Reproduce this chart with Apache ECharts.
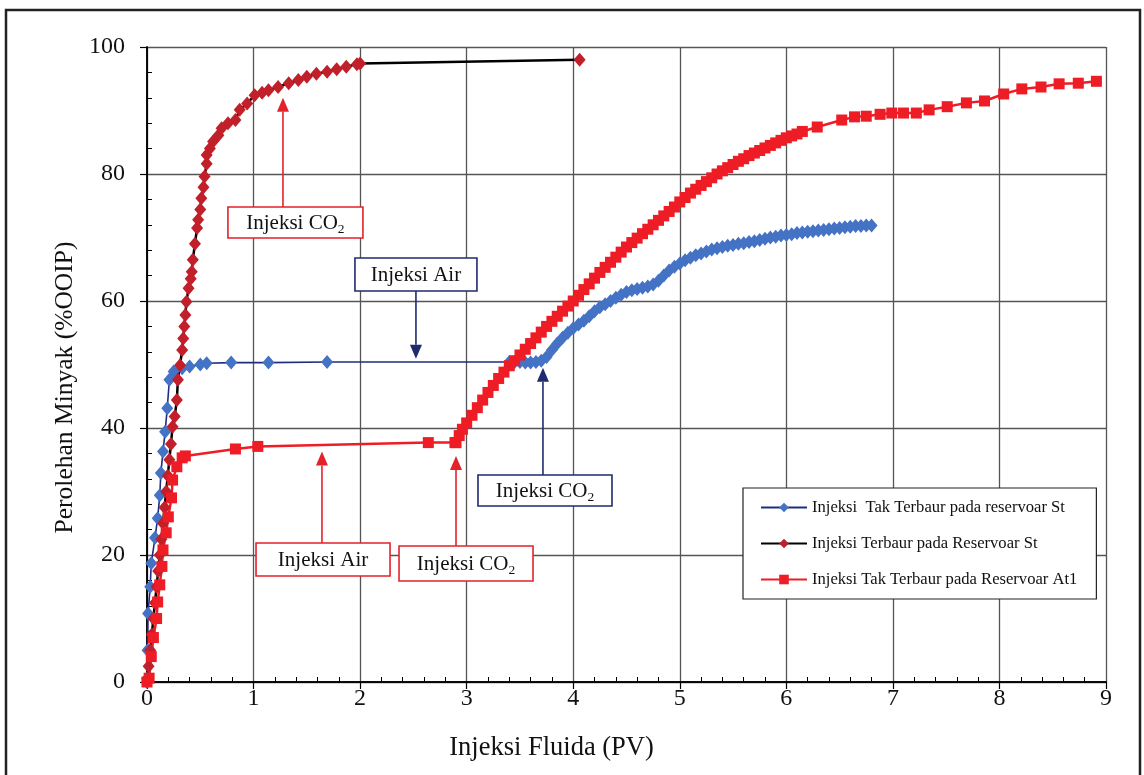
<!DOCTYPE html>
<html><head><meta charset="utf-8">
<script src="https://cdn.jsdelivr.net/npm/echarts@6/dist/echarts.min.js"></script>
<style>html,body{margin:0;padding:0;background:#fff}#c{width:1144px;height:775px}</style>
</head><body><div id="c"></div>
<script>
// ---- names & ticks ----
const seriesNames = ['Injeksi  Tak Terbaur pada reservoar St', 'Injeksi Terbaur pada Reservoar St', 'Injeksi Tak Terbaur pada Reservoar At1'];
const xAxisTitle = 'Injeksi Fluida (PV)';
const yAxisTitle = 'Perolehan Minyak (%OOIP)';
const xTicks = [0, 1, 2, 3, 4, 5, 6, 7, 8, 9];
const yTicks = [0, 20, 40, 60, 80, 100];

// ---- Series 1: Injeksi Tak Terbaur pada reservoar St (blue diamonds) ----
const stTakX = [0, 0.005, 0.01, 0.03, 0.04, 0.075, 0.10, 0.12, 0.13, 0.15, 0.17, 0.19, 0.21, 0.25, 0.33, 0.40, 0.50, 0.56, 0.79, 1.14, 1.69,
  3.40, 3.45, 3.50, 3.55, 3.60, 3.65, 3.70, 3.75, 3.80, 3.85, 3.90, 3.95, 4.00, 4.05, 4.10, 4.15, 4.20, 4.25, 4.30, 4.35, 4.40, 4.45, 4.50,
  4.55, 4.60, 4.65, 4.70, 4.75, 4.80, 4.85, 4.90, 4.95, 5.00, 5.05, 5.10, 5.15, 5.20, 5.25, 5.30, 5.35, 5.40, 5.45, 5.50, 5.55, 5.60,
  5.65, 5.70, 5.75, 5.80, 5.85, 5.90, 5.95, 6.00, 6.05, 6.10, 6.15, 6.20, 6.25, 6.30, 6.35, 6.40, 6.45, 6.50, 6.55, 6.60, 6.65, 6.70, 6.75, 6.80];
const stTakY = [0.5, 5, 10.8, 15, 18.7, 22.7, 25.8, 29.4, 32.9, 36.3, 39.4, 43.1, 47.6, 48.9, 49.4, 49.7, 50.0, 50.2, 50.3, 50.3, 50.4,
  50.4, 50.4, 50.4, 50.3, 50.3, 50.4, 50.6, 51.2, 52.3, 53.3, 54.2, 55.0, 55.7, 56.3, 56.9, 57.6, 58.4, 59.0, 59.5, 60.0, 60.5, 61.0, 61.4,
  61.7, 61.9, 62.1, 62.3, 62.6, 63.2, 64.0, 64.8, 65.4, 65.9, 66.4, 66.8, 67.2, 67.5, 67.8, 68.1, 68.3, 68.5, 68.7, 68.8, 69.0, 69.1,
  69.3, 69.4, 69.6, 69.8, 70.0, 70.1, 70.3, 70.4, 70.5, 70.7, 70.8, 70.9, 71.0, 71.1, 71.2, 71.3, 71.4, 71.5, 71.6, 71.7, 71.8, 71.8, 71.9, 71.9];

// ---- Series 2: Injeksi Terbaur pada Reservoar St (black line, red diamonds) ----
const stMixX = [0, 0.015, 0.03, 0.045, 0.06, 0.075, 0.09, 0.105, 0.12, 0.135, 0.15, 0.165, 0.18, 0.195, 0.21, 0.225, 0.24, 0.26, 0.28, 0.29,
  0.31, 0.33, 0.34, 0.35, 0.36, 0.37, 0.39, 0.41, 0.42, 0.43, 0.45, 0.47, 0.48, 0.50, 0.51, 0.53, 0.54, 0.56, 0.56, 0.59, 0.62, 0.67,
  0.70, 0.76, 0.83, 0.87, 0.94, 1.01, 1.08, 1.14, 1.23, 1.33, 1.42, 1.50, 1.59, 1.69, 1.78, 1.87, 1.97, 2.00, 4.06];
const stMixY = [0, 2.5, 5, 7.5, 10, 12.5, 15, 17.5, 20, 22.5, 25, 27.5, 30, 32.5, 35, 37.5, 40.2, 41.8, 44.4, 47.6,
  49.9, 52.3, 54.1, 56.0, 57.8, 59.9, 62.0, 63.5, 64.6, 66.5, 69.0, 71.5, 72.8, 74.4, 76.2, 77.9, 79.6, 81.6, 83.0, 84.0, 85.1, 86.1,
  87.2, 88.0, 88.5, 90.1, 91.1, 92.4, 92.8, 93.2, 93.7, 94.3, 94.8, 95.3, 95.8, 96.1, 96.5, 96.9, 97.3, 97.4, 98.0];

// ---- Series 3: Injeksi Tak Terbaur pada Reservoar At1 (red squares) ----
const atX = [0, 0.02, 0.04, 0.06, 0.09, 0.10, 0.12, 0.14, 0.15, 0.18, 0.20, 0.23, 0.24, 0.28, 0.33, 0.36, 0.83, 1.04, 2.64, 2.89,
  2.90, 2.93, 2.96, 3.00, 3.05, 3.10, 3.15, 3.20, 3.25, 3.30, 3.35, 3.40, 3.45, 3.50, 3.55, 3.60, 3.65, 3.70, 3.75, 3.80, 3.85, 3.90,
  3.95, 4.00, 4.05, 4.10, 4.15, 4.20, 4.25, 4.30, 4.35, 4.40, 4.45, 4.50, 4.55, 4.60, 4.65, 4.70, 4.75, 4.80, 4.85, 4.90, 4.95, 5.00,
  5.05, 5.10, 5.15, 5.20, 5.25, 5.30, 5.35, 5.40, 5.45, 5.50, 5.55, 5.60, 5.65, 5.70, 5.75, 5.80, 5.85, 5.90, 5.95, 6.00, 6.05, 6.10, 6.15,
  6.29, 6.52, 6.64, 6.75, 6.88, 6.99, 7.10, 7.22, 7.34, 7.51, 7.69, 7.86, 8.04, 8.21, 8.39, 8.56, 8.74, 8.91];
const atY = [0, 0.6, 4, 7, 10, 12.6, 15.3, 18.2, 20.8, 23.5, 26, 29, 31.8, 33.9, 35.3, 35.6, 36.7, 37.1, 37.7, 37.7,
  37.7, 38.8, 39.8, 40.8, 42.0, 43.2, 44.4, 45.6, 46.7, 47.8, 48.8, 49.8, 50.6, 51.5, 52.4, 53.3, 54.2, 55.1, 56.0, 56.8, 57.6, 58.4,
  59.2, 60.0, 60.9, 61.8, 62.7, 63.6, 64.5, 65.3, 66.1, 66.9, 67.7, 68.5, 69.2, 69.9, 70.6, 71.3, 72.0, 72.7, 73.4, 74.1, 74.8, 75.6,
  76.3, 77.0, 77.6, 78.2, 78.8, 79.4, 80.0, 80.5, 81.0, 81.5, 82.0, 82.4, 82.9, 83.3, 83.7, 84.1, 84.5, 84.9, 85.3, 85.7, 86.0, 86.3, 86.7,
  87.4, 88.5, 89.0, 89.1, 89.4, 89.6, 89.6, 89.6, 90.1, 90.6, 91.2, 91.5, 92.6, 93.4, 93.7, 94.2, 94.3, 94.6];

// ---- Annotations (box centre and arrow tip in data units) ----
const annotations = [
  { text: 'Injeksi CO', sub: '2', color: '#E4222A', box: [1.393, 72.36], w: 135, h: 31, tip: [1.276, 92.0] },
  { text: 'Injeksi Air', sub: '', color: '#1E2B6E', box: [2.524, 64.17], w: 122, h: 33, tip: [2.524, 50.9] },
  { text: 'Injeksi CO', sub: '2', color: '#1E2B6E', box: [3.735, 30.16], w: 134, h: 31, tip: [3.716, 49.5] },
  { text: 'Injeksi Air', sub: '', color: '#E4222A', box: [1.652, 19.30], w: 134, h: 33, tip: [1.642, 36.3] },
  { text: 'Injeksi CO', sub: '2', color: '#E4222A', box: [2.994, 18.66], w: 134, h: 35, tip: [2.900, 35.6] }
];

const zip = (xs, ys) => xs.map((x, i) => [x, ys[i]]);
const FONT = '"Liberation Serif", "Times New Roman", serif';

const chart = echarts.init(document.getElementById('c'), null, { renderer: 'canvas' });

const axisCommon = {
  type: 'value',
  axisLine: { show: true, lineStyle: { color: '#000', width: 1.5 } },
};

const option = {
  backgroundColor: '#fff',
  animation: false,
  grid: { left: 147, right: 38, top: 47, bottom: 93 },
  legend: {
    orient: 'vertical', left: 743, top: 488,
    padding: [11, 19, 11, 17], itemGap: 19, itemWidth: 46, itemHeight: 12,
    borderColor: '#222', borderWidth: 1.2, backgroundColor: '#fff',
    textStyle: { fontFamily: FONT, fontSize: 16.6, color: '#111' },
    data: seriesNames
  },
  xAxis: [
    Object.assign({}, axisCommon, {
      min: xTicks[0], max: xTicks[xTicks.length - 1], interval: 1, position: 'bottom',
      name: xAxisTitle, nameLocation: 'middle', nameGap: 53,
      nameTextStyle: { fontFamily: FONT, fontSize: 26.5, color: '#111', padding: [0, 150, 0, 0] },
      axisTick: { show: true, inside: false, length: 7, lineStyle: { color: '#000', width: 1.2 } },
      axisLabel: { fontFamily: FONT, fontSize: 24, color: '#111', margin: 5 },
      splitLine: { show: true, lineStyle: { color: '#555', width: 1.3 } }
    }),
    Object.assign({}, axisCommon, {
      min: xTicks[0], max: xTicks[xTicks.length - 1], interval: 1, position: 'bottom',
      axisTick: { show: false, inside: true }, axisLabel: { show: false }, splitLine: { show: false },
      minorTick: { show: true, splitNumber: 5, length: 5, lineStyle: { color: '#000', width: 1 } }
    })
  ],
  yAxis: [
    Object.assign({}, axisCommon, {
      min: yTicks[0], max: yTicks[yTicks.length - 1], interval: 20, position: 'left',
      name: yAxisTitle, nameLocation: 'middle', nameGap: 57,
      nameTextStyle: { fontFamily: FONT, fontSize: 25.5, color: '#111', padding: [0, 46, 0, 0] },
      axisTick: { show: true, inside: false, length: 7, lineStyle: { color: '#000', width: 1.2 } },
      axisLabel: { fontFamily: FONT, fontSize: 24, color: '#111', margin: 22 },
      splitLine: { show: true, lineStyle: { color: '#555', width: 1.3 } }
    }),
    Object.assign({}, axisCommon, {
      min: yTicks[0], max: yTicks[yTicks.length - 1], interval: 20, position: 'left',
      axisTick: { show: false, inside: true }, axisLabel: { show: false }, splitLine: { show: false },
      minorTick: { show: true, splitNumber: 5, length: 5, lineStyle: { color: '#000', width: 1 } }
    })
  ],
  series: [
    {
      name: seriesNames[0], type: 'line', xAxisIndex: 0, yAxisIndex: 0,
      data: zip(stTakX, stTakY),
      symbol: 'diamond', symbolSize: [12, 14], showAllSymbol: true,
      lineStyle: { color: '#1F2C80', width: 1.6 },
      itemStyle: { color: '#4472C4', borderWidth: 0 }
    },
    {
      name: seriesNames[1], type: 'line', xAxisIndex: 0, yAxisIndex: 0,
      data: zip(stMixX, stMixY),
      symbol: 'diamond', symbolSize: [12, 14], showAllSymbol: true,
      lineStyle: { color: '#000', width: 2.5 },
      itemStyle: { color: '#C1202B', borderWidth: 0 }
    },
    {
      name: seriesNames[2], type: 'line', xAxisIndex: 0, yAxisIndex: 0,
      data: zip(atX, atY),
      symbol: 'rect', symbolSize: 11, showAllSymbol: true,
      lineStyle: { color: '#EE1C25', width: 2.5 },
      itemStyle: { color: '#EE1C25', borderWidth: 0 }
    }
  ]
};
chart.setOption(option);

// ---- graphics: outer frame + annotation boxes and arrows ----
const measure = (() => {
  const ctx = document.createElement('canvas').getContext('2d');
  return (txt, size) => { ctx.font = size + 'px ' + FONT; return ctx.measureText(txt).width; };
})();

const graphics = [{
  type: 'rect', z: -10, silent: true,
  shape: { x: 6, y: 10, width: 1134, height: 800 },
  style: { fill: 'none', stroke: '#222', lineWidth: 2.5 }
}];

annotations.forEach(a => {
  const c = chart.convertToPixel({ xAxisIndex: 0, yAxisIndex: 0 }, a.box);
  const t = chart.convertToPixel({ xAxisIndex: 0, yAxisIndex: 0 }, a.tip);
  const x0 = c[0] - a.w / 2, y0 = c[1] - a.h / 2;
  const up = t[1] < y0;
  const startY = up ? y0 : y0 + a.h;
  const headLen = 14, headHalf = 6;
  const baseY = up ? t[1] + headLen : t[1] - headLen;
  graphics.push({
    type: 'line', z: 100, silent: true,
    shape: { x1: t[0], y1: startY, x2: t[0], y2: baseY },
    style: { stroke: a.color, lineWidth: 1.6 }
  });
  graphics.push({
    type: 'polygon', z: 100, silent: true,
    shape: { points: [[t[0], t[1]], [t[0] - headHalf, baseY], [t[0] + headHalf, baseY]] },
    style: { fill: a.color }
  });
  graphics.push({
    type: 'rect', z: 100, silent: true,
    shape: { x: x0, y: y0, width: a.w, height: a.h },
    style: { fill: '#fff', stroke: a.color, lineWidth: 1.6 }
  });
  const wMain = measure(a.text, 21);
  const wSub = a.sub ? measure(a.sub, 13.5) : 0;
  const tx = c[0] - (wMain + wSub) / 2;
  graphics.push({
    type: 'text', z: 101, silent: true,
    x: tx, y: c[1] + 1,
    style: { text: a.text, fill: '#111', font: '21px ' + FONT, textAlign: 'left', textVerticalAlign: 'middle' }
  });
  if (a.sub) {
    graphics.push({
      type: 'text', z: 101, silent: true,
      x: tx + wMain, y: c[1] + 7,
      style: { text: a.sub, fill: '#111', font: '13.5px ' + FONT, textAlign: 'left', textVerticalAlign: 'middle' }
    });
  }
});

chart.setOption({ graphic: graphics });
</script>
</body></html>
